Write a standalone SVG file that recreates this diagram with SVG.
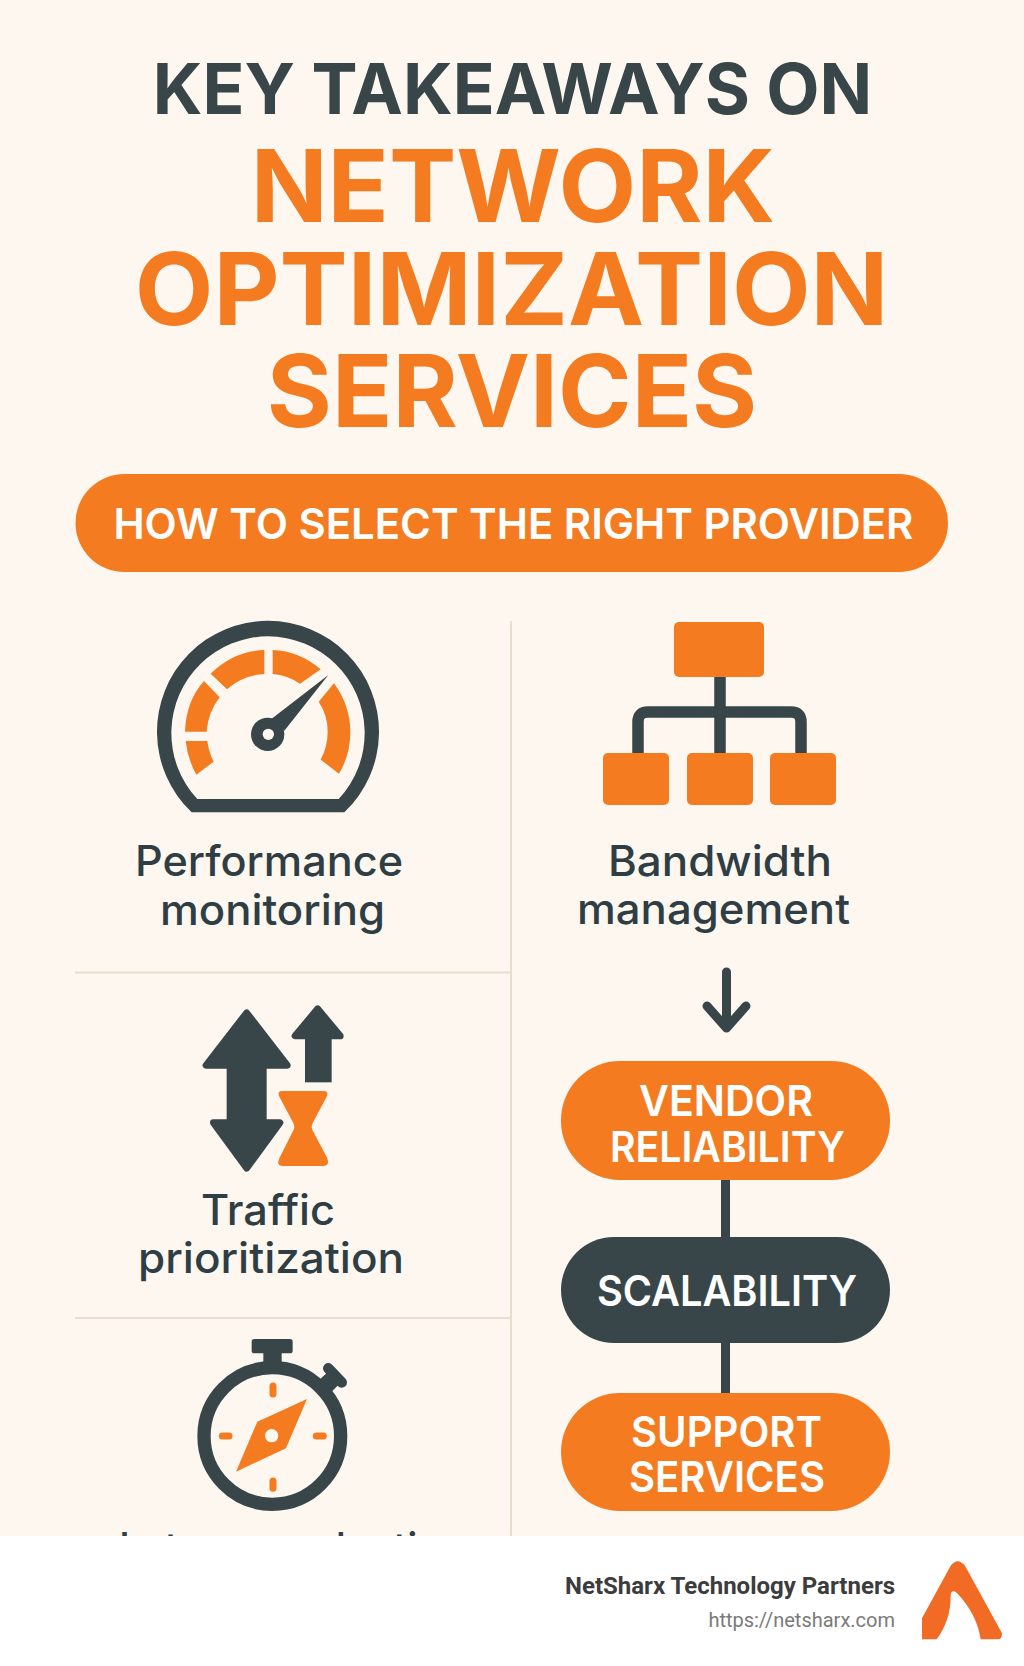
<svg xmlns="http://www.w3.org/2000/svg" width="1024" height="1666" viewBox="0 0 1024 1666">
<defs>
<style>
.o{fill:#f47b20}
.d{fill:#384649}
.t{font-family:"Inter","Liberation Sans",sans-serif;font-weight:700;text-anchor:start}
.p{font-family:"Inter","Liberation Sans",sans-serif;font-weight:600;fill:#fff}
.l{font-family:"Inter","Liberation Sans",sans-serif;font-weight:500;font-size:42px;fill:#2f3e44}
.div{stroke:#e6dfd0;stroke-width:2;fill:none}
.con{stroke:#384649;fill:none}
</style>
</defs>
<rect id="background" width="1024" height="1666" fill="#fdf7ef"/>
<g id="title">
<text class="t" x="152.800" y="114" font-size="70" fill="#384649" textLength="719.500" lengthAdjust="spacingAndGlyphs">KEY TAKEAWAYS ON</text>
<text class="t" x="250.700" y="222" font-size="101" fill="#f47b20" textLength="524.500" lengthAdjust="spacingAndGlyphs">NETWORK</text>
<text class="t" x="134.800" y="325" font-size="101" fill="#f47b20" textLength="753.600" lengthAdjust="spacingAndGlyphs">OPTIMIZATION</text>
<text class="t" x="266.800" y="427" font-size="101" fill="#f47b20" textLength="490.500" lengthAdjust="spacingAndGlyphs">SERVICES</text>
</g>
<g id="banner">
<rect class="o" x="75.500" y="474" width="872.500" height="98" rx="49"/>
<text class="p" x="113.400" y="539" font-size="43" textLength="800" lengthAdjust="spacingAndGlyphs">HOW TO SELECT THE RIGHT PROVIDER</text>
</g>
<g id="dividers">
<path class="div" d="M511 621V1536M75 972.500H511M75 1318H511"/>
</g>
<g id="connectors">
<path class="con" stroke-width="9" d="M725.500 1180V1237M725.500 1343V1393"/>
<path class="con" stroke-width="9" stroke-linecap="round" stroke-linejoin="round" d="M726.500 972V1028M707 1006L726.500 1028L746 1006"/>
</g>
<g id="performance-monitoring">
<g transform="translate(100 600) scale(.33333)">
<path class="d" fill-rule="evenodd" d="M275 637A333 333 0 1 1 733 637ZM292 597H716A290 290 0 1 0 292 597Z"/>
<path class="o" d="M257 423L322 423Q327 458 341 485L289 524Q263 478 257 423Z"/>
<path class="o" d="M255 395L320 395Q324 337 359 292L312 243Q258 303 255 395Z"/>
<path class="o" d="M332 221L381 268Q428 225 493 222L493 150Q400 153 332 221Z"/>
<path class="o" d="M518 150Q598 153 662 208L600 251Q563 226 518 222Z"/>
<path class="o" d="M702 250L656 305Q683 345 683 395Q683 440 662 479L717 521Q751 465 751 395Q750 315 702 250Z"/>
<path class="d" d="M685 225L515 356L553 392Z"/>
<circle class="d" cx="503" cy="403" r="50"/>
<circle cx="505" cy="403" r="17" fill="#fdf7ef"/>
</g>
<text class="l" x="135" y="875.700" textLength="268" lengthAdjust="spacingAndGlyphs">Performance</text>
<text class="l" x="160" y="925" textLength="225" lengthAdjust="spacingAndGlyphs">monitoring</text>
</g>
<g id="traffic-prioritization">
<g transform="translate(170 990) scale(.33333)">
<path class="d" stroke="#384649" stroke-width="20" stroke-linejoin="round" d="M230 68L108 226H180V398H130L230 535L330 398H280V226H352Z"/>
<path class="d" stroke="#384649" stroke-width="20" stroke-linejoin="round" d="M443 56L375 138H511Z"/>
<rect class="d" x="405" y="140" width="80" height="137"/>
<path class="o" d="M337 303L460 303Q478 303 470 320L430 395Q420 410 430 425L472 505Q480 528 460 528L338 528Q318 528 328 505L368 425Q378 410 368 395L328 320Q320 303 337 303Z"/>
</g>
<text class="l" x="201" y="1225" textLength="134" lengthAdjust="spacingAndGlyphs">Traffic</text>
<text class="l" x="138" y="1273" textLength="266" lengthAdjust="spacingAndGlyphs">prioritization</text>
</g>
<g id="latency-reduction">
<g transform="translate(100 1320) scale(.33333)">
<circle cx="517" cy="348" r="205" fill="none" stroke="#384649" stroke-width="40"/>
<rect class="d" x="455" y="57" width="123" height="43" rx="8"/>
<rect class="d" x="490" y="95" width="55" height="50"/>
<path class="d" d="M660 178L690 150L720 190L695 215Z"/>
<path d="M685 145L725 187" stroke="#384649" stroke-width="32" stroke-linecap="round" fill="none"/>
<path d="M519 198V222M519 483V505M367 348H387M649 348H670" stroke="#f47b20" stroke-width="21" stroke-linecap="round" fill="none"/>
<path class="o" d="M621 237L558 385L408 455L472 305Z"/>
<circle cx="515" cy="347" r="20" fill="#fdf7ef"/>
</g>
<text class="l" x="119" y="1563" textLength="347" lengthAdjust="spacingAndGlyphs">Latency reduction</text>
</g>
<g id="bandwidth-management">
<path d="M720 677V753M638 753V722Q638 712 648 712H791Q801 712 801 722V753" stroke="#384649" stroke-width="11.500" fill="none"/>
<rect class="o" x="674" y="622" width="90" height="55" rx="5"/>
<rect class="o" x="603" y="753" width="66" height="52" rx="5"/>
<rect class="o" x="687" y="753" width="66" height="52" rx="5"/>
<rect class="o" x="770" y="753" width="66" height="52" rx="5"/>
<text class="l" x="608" y="875.700" textLength="224" lengthAdjust="spacingAndGlyphs">Bandwidth</text>
<text class="l" x="577" y="924" textLength="273" lengthAdjust="spacingAndGlyphs">management</text>
</g>
<g id="vendor-reliability">
<rect class="o" x="561" y="1061" width="329" height="119" rx="59"/>
<text class="p" x="639" y="1116" font-size="43" textLength="174" lengthAdjust="spacingAndGlyphs">VENDOR</text>
<text class="p" x="610" y="1162" font-size="43" textLength="235" lengthAdjust="spacingAndGlyphs">RELIABILITY</text>
</g>
<g id="scalability">
<rect class="d" x="561" y="1237" width="329" height="106" rx="53"/>
<text class="p" x="597" y="1306" font-size="43" textLength="260" lengthAdjust="spacingAndGlyphs">SCALABILITY</text>
</g>
<g id="support-services">
<rect class="o" x="561" y="1393" width="329" height="118" rx="59"/>
<text class="p" x="631" y="1447" font-size="43" textLength="191" lengthAdjust="spacingAndGlyphs">SUPPORT</text>
<text class="p" x="629" y="1492" font-size="43" textLength="196" lengthAdjust="spacingAndGlyphs">SERVICES</text>
</g>
<g id="footer">
<rect y="1536" width="1024" height="130" fill="#fff"/>
<text x="895" y="1594" text-anchor="end" font-family="Roboto,'Liberation Sans',sans-serif" font-weight="700" font-size="24" fill="#3c3c3c">NetSharx Technology Partners</text>
<text x="895" y="1627" text-anchor="end" font-family="Roboto,'Liberation Sans',sans-serif" font-size="20" fill="#7a7a7a">https://netsharx.com</text>
<path transform="translate(540 1500) scale(.33333)" fill="#f26b25" d="M1146 355L1232 197Q1253 170 1275 197L1386 400Q1386 418 1375 418L1322 418Q1310 340 1250 278Q1232 265 1232 290Q1232 360 1190 418L1146 418Z"/>
</g>
</svg>
